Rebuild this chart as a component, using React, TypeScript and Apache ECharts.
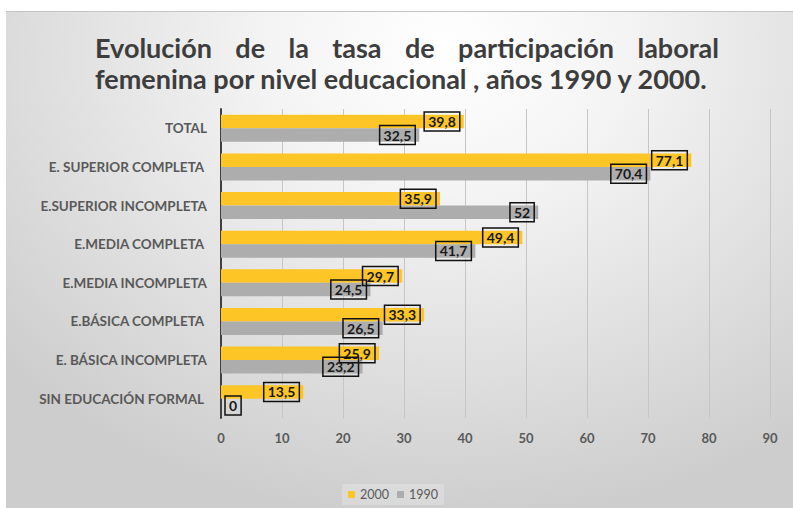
import React, { useEffect, useRef } from "react";
import * as echarts from "echarts";

const categories = [
  "TOTAL",
  "E. SUPERIOR COMPLETA ",
  "E.SUPERIOR INCOMPLETA",
  "E.MEDIA COMPLETA ",
  "E.MEDIA INCOMPLETA",
  "E.BÁSICA COMPLETA ",
  "E. BÁSICA INCOMPLETA",
  "SIN EDUCACIÓN FORMAL ",
];
const values2000 = [39.8, 77.1, 35.9, 49.4, 29.7, 33.3, 25.9, 13.5];
const values1990 = [32.5, 70.4, 52, 41.7, 24.5, 26.5, 23.2, 0];
const seriesNames = ["2000", "1990"];
const axisMin = 0;
const axisMax = 90;
const axisStep = 10;
const titleLine1 = "Evolución de la tasa de participación laboral";
const titleLine2 = "femenina por nivel educacional , años 1990 y 2000.";

const FONT = "Lato";
const TITLE_COLOR = "#3d3d3d";

function measure(text: string, size: number): number {
  const c = document.createElement("canvas").getContext("2d");
  if (!c) return text.length * size * 0.5;
  c.font = `bold ${size}px ${FONT}`;
  return c.measureText(text).width;
}

function buildTitle(): any[] {
  const left = 95;
  const right1 = 719;
  const width2 = 712 - left;
  const base = 26;
  const size = Math.min(27, Math.max(22, (base * width2) / measure(titleLine2, base)));
  const words = titleLine1.split(" ");
  const widths = words.map((w) => measure(w, size));
  const total = widths.reduce((a, b) => a + b, 0);
  const gap = (right1 - left - total) / (words.length - 1);
  const common = {
    fontFamily: FONT,
    fontWeight: "bold",
    fontSize: size,
    lineHeight: size,
    fill: TITLE_COLOR,
    align: "left",
    verticalAlign: "middle",
  };
  const els: any[] = [];
  let x = left;
  words.forEach((w, i) => {
    els.push({ type: "text", x, y: 47, style: { ...common, text: w } });
    x += widths[i] + gap;
  });
  els.push({ type: "text", x: left, y: 78, style: { ...common, text: titleLine2 } });
  return els;
}

const fmt = (v: number) => String(v).replace(".", ",");

export default function App() {
  const ref = useRef<HTMLDivElement>(null);
  useEffect(() => {
    if (!ref.current) return;
    const chart = echarts.init(ref.current, null, { renderer: "svg" });
    const labelBase = {
      show: true,
      position: "insideRight" as const,
      distance: 4,
      formatter: (p: any) => fmt(p.value),
      color: "#1a1a1a",
      fontFamily: FONT,
      fontWeight: "bold" as const,
      fontSize: 14,
      borderColor: "#111",
      borderWidth: 1.5,
      padding: [3, 4, 2, 4],
    };
    const mkData = (arr: number[]) =>
      arr.map((v) =>
        v === 0 ? { value: v, label: { position: "right" as const } } : { value: v }
      );
    chart.setOption({
      animation: false,
      textStyle: { fontFamily: FONT },
      graphic: buildTitle(),
      legend: {
        data: seriesNames,
        left: 342,
        top: 484,
        itemWidth: 7,
        itemHeight: 7,
        itemGap: 8,
        icon: "rect",
        padding: [4, 6, 4, 6],
        backgroundColor: "rgba(255,255,255,0.22)",
        textStyle: { color: "#595959", fontSize: 12.5, fontFamily: FONT },
      },
      grid: { left: 221, right: 23, top: 109, bottom: 90, containLabel: false },
      xAxis: {
        type: "value",
        min: axisMin,
        max: axisMax,
        interval: axisStep,
        axisLine: { show: false },
        axisTick: { show: false },
        splitLine: { show: true, lineStyle: { color: "#c6c6c6", width: 1 } },
        axisLabel: {
          color: "#595959",
          fontSize: 13,
          fontWeight: "bold",
          fontFamily: FONT,
          margin: 13,
        },
      },
      yAxis: {
        type: "category",
        data: categories,
        inverse: true,
        axisLine: { show: true, lineStyle: { color: "#404040", width: 2 } },
        axisTick: { show: false },
        axisLabel: {
          color: "#595959",
          fontSize: 13.5,
          fontWeight: "bold",
          fontFamily: FONT,
          margin: 14,
        },
      },
      series: [
        {
          name: seriesNames[0],
          type: "bar",
          data: mkData(values2000),
          barGap: "0%",
          barCategoryGap: "30%",
          itemStyle: { color: "#FDC526" },
          label: labelBase,
        },
        {
          name: seriesNames[1],
          type: "bar",
          data: mkData(values1990),
          barGap: "0%",
          barCategoryGap: "30%",
          itemStyle: { color: "#ADADAD" },
          label: labelBase,
        },
      ],
    });
    return () => chart.dispose();
  }, []);
  return (
    <div
      style={{
        position: "fixed",
        left: 0,
        top: 0,
        width: 793,
        height: 508,
        background: "#ffffff",
        overflow: "hidden",
      }}
    >
      <div
        style={{
          position: "absolute",
          left: 6,
          top: 11,
          width: 787,
          height: 497,
          borderTop: "1px solid #c4c4c4",
          boxSizing: "border-box",
          background:
            "radial-gradient(ellipse 75% 95% at 56% 8%, #ffffff 0%, #f4f4f4 30%, #e2e2e2 62%, #cdcdcd 100%)",
        }}
      />
      <div
        ref={ref}
        style={{ position: "absolute", left: 0, top: 0, width: 793, height: 508 }}
      />
    </div>
  );
}
